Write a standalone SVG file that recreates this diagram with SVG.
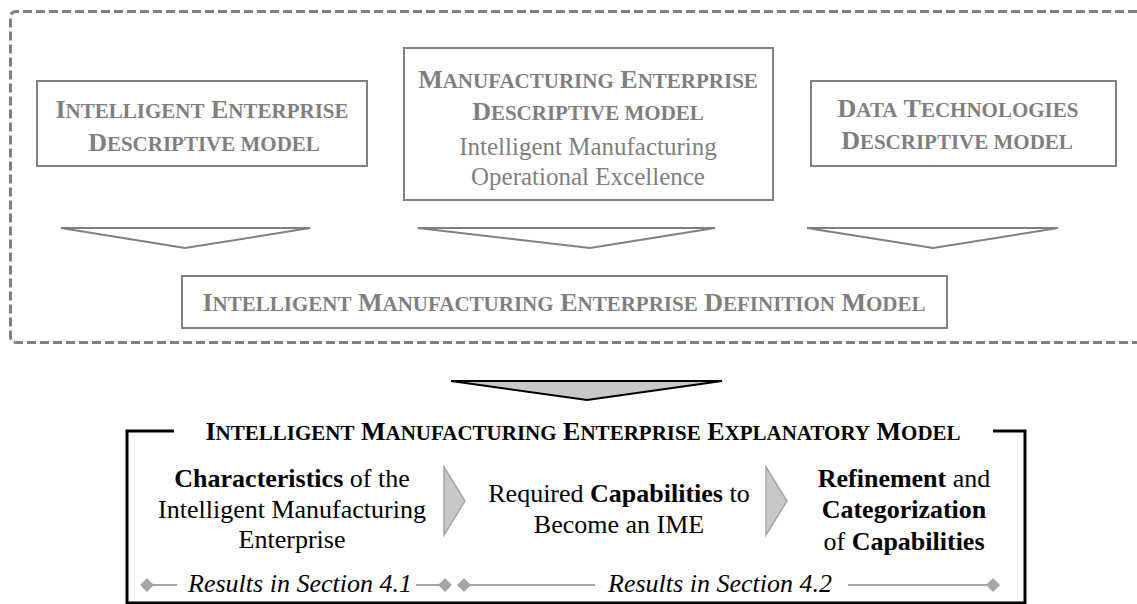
<svg xmlns="http://www.w3.org/2000/svg" width="1137" height="604" viewBox="0 0 1137 604">
  <style>
    text { font-family: "Liberation Serif", "Times New Roman", serif; text-anchor: middle; }
    .g { fill: #7f7f7f; }
    .k { fill: #000000; }
    .b { font-weight: bold; font-size: 26px; }
    .sc { font-size: 21px; }
    .r { font-size: 26px; }
    .rg { font-size: 25px; }
    .it { font-style: italic; font-size: 26px; }
    .box { fill: #ffffff; stroke: #808080; stroke-width: 2; }
    .open-arrow { fill: #ffffff; stroke: #808080; stroke-width: 2; stroke-linejoin: miter; }
    .chev { fill: #c8c8c8; stroke: #a6a6a6; stroke-width: 1.5; }
    .rule { stroke: #a6a6a6; stroke-width: 2; fill: none; }
    .dia { fill: #a6a6a6; }
  </style>

  <!-- dashed frame around the descriptive models -->
  <g id="frame">
    <path d="M1137,11.5 H16.5 Q10.5,11.5 10.5,17.5 V336.5 Q10.5,342.5 16.5,342.5 H1137" fill="none" stroke="#7f7f7f" stroke-width="3" stroke-dasharray="9 4"/>
  </g>

  <g id="node-intelligent-enterprise">
    <rect class="box" x="37" y="81" width="330" height="85"/>
    <text class="b g" x="202" y="118">I<tspan class="sc">NTELLIGENT</tspan> E<tspan class="sc">NTERPRISE</tspan></text>
    <text class="b g" x="204" y="151">D<tspan class="sc">ESCRIPTIVE MODEL</tspan></text>
  </g>

  <g id="node-manufacturing-enterprise">
    <rect class="box" x="404" y="48" width="369" height="152"/>
    <text class="b g" x="588" y="88">M<tspan class="sc">ANUFACTURING</tspan> E<tspan class="sc">NTERPRISE</tspan></text>
    <text class="b g" x="588" y="120">D<tspan class="sc">ESCRIPTIVE MODEL</tspan></text>
    <text class="rg g" x="588" y="155">Intelligent Manufacturing</text>
    <text class="rg g" x="588" y="185">Operational Excellence</text>
  </g>

  <g id="node-data-technologies">
    <rect class="box" x="811" y="81" width="305" height="85"/>
    <text class="b g" x="958" y="117">D<tspan class="sc">ATA</tspan> T<tspan class="sc">ECHNOLOGIES</tspan></text>
    <text class="b g" x="957" y="149">D<tspan class="sc">ESCRIPTIVE MODEL</tspan></text>
  </g>

  <g id="node-definition-model">
    <rect class="box" x="182" y="276" width="765" height="52"/>
    <text class="b g" x="564" y="311">I<tspan class="sc">NTELLIGENT</tspan> M<tspan class="sc">ANUFACTURING</tspan> E<tspan class="sc">NTERPRISE</tspan> D<tspan class="sc">EFINITION</tspan> M<tspan class="sc">ODEL</tspan></text>
  </g>

  <!-- connectors: open arrows into the definition model, filled arrow to the explanatory model -->
  <g id="connectors">
    <polygon class="open-arrow" points="61,228 310,228 185,248"/>
    <polygon class="open-arrow" points="418,228 715,228 590,248"/>
    <polygon class="open-arrow" points="807,228 1058,228 933,248"/>
    <polygon points="451,381 722,381 587,400" fill="#c8c8c8" stroke="#000000" stroke-width="2"/>
  </g>

  <g id="node-explanatory-model">
    <path d="M174,431 H127 V603 H1025 V431 H993" fill="none" stroke="#000000" stroke-width="3"/>
    <text class="b k" x="583" y="440">I<tspan class="sc">NTELLIGENT</tspan> M<tspan class="sc">ANUFACTURING</tspan> E<tspan class="sc">NTERPRISE</tspan> E<tspan class="sc">XPLANATORY</tspan> M<tspan class="sc">ODEL</tspan></text>

    <g id="step-characteristics">
      <text class="r k" x="292" y="487"><tspan font-weight="bold">Characteristics</tspan> of the</text>
      <text class="r k" x="292" y="518">Intelligent Manufacturing</text>
      <text class="r k" x="292" y="548">Enterprise</text>
    </g>
    <polygon class="chev" points="444,467 465,501 444,535"/>

    <g id="step-capabilities">
      <text class="r k" x="619" y="502">Required <tspan font-weight="bold">Capabilities</tspan> to</text>
      <text class="r k" x="619" y="533">Become an IME</text>
    </g>
    <polygon class="chev" points="766,467 787,501 766,535"/>

    <g id="step-refinement">
      <text class="r k" x="904" y="487"><tspan font-weight="bold">Refinement</tspan> and</text>
      <text class="b k" x="904" y="518">Categorization</text>
      <text class="r k" x="904" y="550">of <tspan font-weight="bold">Capabilities</tspan></text>
    </g>

    <!-- section ranges -->
    <g id="results">
      <line class="rule" x1="147" y1="585" x2="177" y2="585"/>
      <line class="rule" x1="416" y1="585" x2="445" y2="585"/>
      <line class="rule" x1="464" y1="585" x2="595" y2="585"/>
      <line class="rule" x1="848" y1="585" x2="993" y2="585"/>
      <polygon class="dia" points="140,585 147,578 154,585 147,592"/>
      <polygon class="dia" points="438,585 445,578 452,585 445,592"/>
      <polygon class="dia" points="457,585 464,578 471,585 464,592"/>
      <polygon class="dia" points="986,585 993,578 1000,585 993,592"/>
      <text class="it k" x="300" y="592">Results in Section 4.1</text>
      <text class="it k" x="720" y="592">Results in Section 4.2</text>
    </g>
  </g>
</svg>
